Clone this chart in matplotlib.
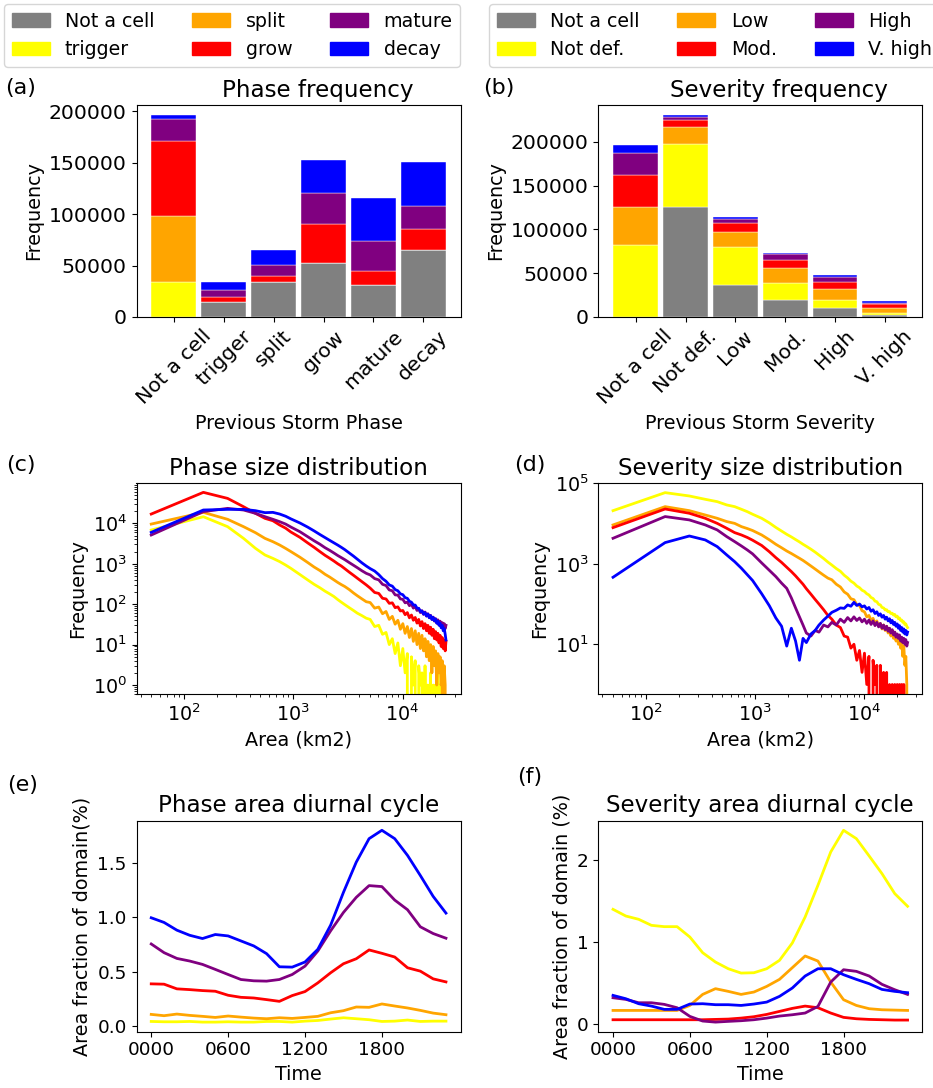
import matplotlib
matplotlib.use("Agg")
import matplotlib.pyplot as plt
from matplotlib.patches import Patch
from matplotlib.ticker import LogLocator, NullLocator
import numpy as np

plt.rcParams["font.size"] = 13.8

# ---- categories / colours ----
phase_names = ["Not a cell", "trigger", "split", "grow", "mature", "decay"]
severity_names = ["Not a cell", "Not def.", "Low", "Mod.", "High", "V. high"]
colours = ["grey", "yellow", "orange", "red", "purple", "blue"]

# ---- (a) phase frequency, one row per stacked segment (current phase) ----
phase_notacell = [0, 14600, 33800, 52400, 30900, 65000]
phase_trigger = [33800, 0, 0, 0, 0, 0]
phase_split = [64400, 0, 0, 0, 0, 0]
phase_grow = [73200, 4600, 6200, 38000, 14000, 20900]
phase_mature = [20500, 6800, 10400, 29900, 29200, 22100]
phase_decay = [4200, 7800, 14300, 32200, 41300, 42200]

# ---- (b) severity frequency ----
sev_notacell = [0, 126000, 37000, 19800, 10300, 1900]
sev_notdef = [82100, 71700, 42400, 19500, 9500, 2300]
sev_low = [43900, 19100, 17500, 16800, 11900, 6500]
sev_mod = [36200, 7600, 10000, 9500, 8400, 3800]
sev_high = [25200, 3800, 4900, 5800, 5700, 1900]
sev_vhigh = [8800, 2300, 1900, 1500, 1900, 1900]

# ---- (c)/(d) size distributions ----
area_km2 = [50, 150, 250, 350, 450, 550, 650, 750, 850, 950,
            1150, 1350, 1550, 1750, 1950, 2150, 2350, 2550, 2750, 2950,
            3250, 3550, 3850, 4250, 4650,
            5050, 5550, 6050, 6550, 7050, 7550, 8050, 8550, 9050, 9550,
            10050, 10550, 11050, 11550, 12050, 12550, 13050, 13550, 14050, 14550,
            15050, 15550, 16050, 16550, 17050, 17550, 18050, 18550, 19050, 19550,
            20050, 20550, 21050, 21550, 22050, 22550, 23050, 23550, 24050, 24550, 24950]

size_trigger = [6840, 14600, 8280, 4250, 2410, 1650, 1360, 1130, 930, 770,
                540, 400, 310, 255, 210, 180, 155, 130, 112, 98,
                82, 70, 60, 52, 45,
                42, 28, 30, 18, 20, 10, 14, 6, 11, 3,
                8, 2, 6, 0, 5, 1, 4, 0, 3, 1,
                2, 0, 3, 0, 1, 0, 2, 0, 1, 0,
                1, 0, 2, 0, 1, 0, 1, 0, 1, 0, 0]
size_split = [9600, 18700, 12600, 8280, 5880, 4250, 3520, 2910, 2400, 2000,
              1450, 1080, 830, 680, 550, 470, 400, 345, 305, 275,
              230, 190, 162, 135, 115,
              110, 80, 85, 58, 66, 42, 50, 32, 40, 24,
              33, 19, 28, 15, 25, 12, 22, 10, 19, 8,
              17, 7, 14, 5, 12, 4, 10, 2, 9, 3,
              7, 1, 6, 2, 5, 1, 4, 0, 3, 1, 0]
size_grow = [17000, 58500, 41500, 25800, 17700, 13300, 11600, 9100, 7600, 6100,
             4500, 3300, 2550, 2000, 1620, 1370, 1170, 1000, 880, 760,
             620, 520, 440, 360, 300,
             250, 195, 185, 140, 135, 105, 108, 82, 86, 68,
             70, 55, 62, 46, 54, 40, 47, 34, 42, 29,
             37, 25, 33, 22, 30, 19, 27, 17, 24, 14,
             21, 13, 19, 11, 17, 9, 15, 8, 13, 7, 12]
size_mature = [5150, 19500, 23500, 21400, 17700, 14600, 12600, 11000, 9600, 8100,
               6200, 4700, 3700, 3050, 2500, 2150, 1850, 1600, 1420, 1270,
               1070, 920, 800, 670, 580,
               530, 430, 400, 310, 290, 225, 215, 170, 168, 135,
               132, 108, 113, 92, 100, 80, 88, 70, 78, 62,
               69, 56, 64, 51, 58, 47, 53, 42, 48, 38,
               44, 34, 41, 31, 38, 29, 35, 27, 33, 25, 30]
size_decay = [6000, 21400, 22200, 22200, 20600, 18400, 18700, 17000, 15000, 12900,
              10200, 8100, 6500, 5300, 4450, 3800, 3300, 2900, 2550, 2250,
              1850, 1550, 1300, 1050, 880,
              760, 660, 540, 430, 370, 300, 280, 230, 215, 180,
              172, 145, 140, 118, 112, 96, 95, 80, 79, 66,
              68, 57, 62, 51, 57, 46, 52, 42, 47, 39,
              43, 34, 38, 30, 34, 26, 30, 22, 25, 18, 13]

size_notdef = [20900, 58600, 48400, 40000, 35000, 29000, 26300, 22600, 19700, 17000,
               13500, 10400, 8000, 6500, 5400, 4650, 4000, 3500, 3050, 2720,
               2300, 1950, 1650, 1350, 1100,
               930, 760, 650, 520, 445, 370, 330, 280, 255, 220,
               205, 180, 168, 145, 137, 118, 114, 98, 95, 82,
               80, 71, 72, 64, 65, 58, 59, 53, 55, 48,
               50, 43, 45, 39, 40, 35, 36, 31, 32, 28, 26]
size_low = [9230, 26300, 20900, 16300, 13500, 11200, 10100, 8380, 7500, 6700,
            5200, 3950, 3050, 2500, 2080, 1800, 1560, 1370, 1210, 1060,
            880, 740, 630, 520, 440,
            400, 310, 265, 200, 175, 135, 128, 96, 92, 68,
            64, 48, 52, 39, 44, 33, 38, 28, 33, 24,
            30, 22, 28, 19, 25, 16, 22, 14, 20, 12,
            17, 10, 14, 8, 12, 5, 9, 3, 5, 1, 0]
size_mod = [7920, 23000, 18000, 13500, 10100, 7620, 5950, 5200, 4500, 3850,
            2850, 2000, 1420, 1080, 820, 640, 500, 390, 310, 240,
            175, 130, 100, 72, 52,
            42, 30, 26, 16, 15, 8, 10, 4, 7, 2,
            6, 1, 5, 0, 4, 1, 3, 0, 3, 0,
            2, 0, 2, 0, 1, 0, 1, 0, 1, 0,
            1, 0, 1, 0, 1, 0, 1, 0, 0, 0, 0]
size_high = [4300, 14900, 12300, 9230, 6940, 4730, 3560, 2770, 2200, 1760,
             1050, 690, 480, 330, 245, 142, 80, 48, 30, 19,
             16, 22, 20, 30, 27,
             35, 30, 42, 35, 46, 38, 48, 39, 45, 36,
             42, 33, 40, 31, 38, 29, 35, 27, 33, 25,
             30, 23, 28, 21, 25, 19, 23, 17, 20, 15,
             18, 14, 17, 12, 15, 11, 14, 10, 13, 9, 11]
size_vhigh = [462, 3360, 4900, 3910, 2670, 1660, 1130, 773, 533, 383,
              180, 91, 45, 28, 9, 25, 12, 4, 14, 11,
              18, 22, 30, 40, 50,
              62, 70, 80, 78, 95, 88, 110, 92, 100, 85,
              90, 75, 82, 66, 72, 58, 64, 52, 57, 47,
              52, 42, 47, 38, 43, 34, 39, 31, 35, 28,
              32, 25, 29, 22, 26, 20, 24, 18, 22, 17, 20]

# ---- (e)/(f) diurnal cycle ----
hours = [0, 1, 2, 3, 4, 5, 6, 7, 8, 9, 10, 11,
         12, 13, 14, 15, 16, 17, 18, 19, 20, 21, 22, 23]
hour_ticks = [0, 6, 12, 18]
hour_labels = ["0000", "0600", "1200", "1800"]

diurnal_trigger = [0.043, 0.040, 0.040, 0.043, 0.037, 0.037, 0.040, 0.037, 0.037, 0.043, 0.043, 0.037,
                   0.046, 0.052, 0.065, 0.077, 0.068, 0.059, 0.043, 0.046, 0.056, 0.043, 0.046, 0.046]
diurnal_split = [0.108, 0.096, 0.111, 0.099, 0.090, 0.080, 0.093, 0.083, 0.074, 0.068, 0.077, 0.071,
                 0.080, 0.090, 0.123, 0.142, 0.176, 0.173, 0.204, 0.185, 0.167, 0.145, 0.120, 0.105]
diurnal_grow = [0.389, 0.386, 0.343, 0.336, 0.327, 0.321, 0.284, 0.265, 0.259, 0.244, 0.228, 0.281,
                0.318, 0.398, 0.491, 0.574, 0.620, 0.701, 0.670, 0.636, 0.537, 0.506, 0.435, 0.407]
diurnal_mature = [0.756, 0.676, 0.623, 0.599, 0.568, 0.522, 0.475, 0.429, 0.417, 0.414, 0.429, 0.475,
                  0.552, 0.691, 0.877, 1.046, 1.185, 1.293, 1.284, 1.160, 1.071, 0.914, 0.852, 0.809]
diurnal_decay = [0.997, 0.954, 0.883, 0.836, 0.806, 0.843, 0.830, 0.784, 0.738, 0.667, 0.546, 0.543,
                 0.590, 0.707, 0.929, 1.231, 1.509, 1.725, 1.802, 1.725, 1.571, 1.386, 1.194, 1.040]

diurnal_notdef = [1.400, 1.318, 1.278, 1.204, 1.188, 1.188, 1.061, 0.869, 0.755, 0.673, 0.620, 0.624,
                  0.673, 0.776, 0.988, 1.306, 1.694, 2.102, 2.367, 2.265, 2.053, 1.837, 1.592, 1.437]
diurnal_low = [0.163, 0.163, 0.163, 0.163, 0.163, 0.163, 0.224, 0.359, 0.429, 0.396, 0.359, 0.388,
               0.457, 0.543, 0.686, 0.829, 0.767, 0.510, 0.294, 0.224, 0.184, 0.171, 0.167, 0.163]
diurnal_mod = [0.049, 0.049, 0.049, 0.049, 0.049, 0.049, 0.049, 0.049, 0.053, 0.057, 0.069, 0.086,
               0.114, 0.151, 0.188, 0.216, 0.196, 0.131, 0.078, 0.061, 0.053, 0.049, 0.045, 0.045]
diurnal_high = [0.318, 0.298, 0.257, 0.257, 0.237, 0.196, 0.090, 0.033, 0.020, 0.029, 0.037, 0.049,
                0.069, 0.094, 0.110, 0.131, 0.212, 0.510, 0.661, 0.641, 0.584, 0.482, 0.416, 0.359]
diurnal_vhigh = [0.347, 0.306, 0.245, 0.216, 0.176, 0.176, 0.241, 0.245, 0.233, 0.233, 0.224, 0.241,
                 0.265, 0.335, 0.437, 0.584, 0.673, 0.673, 0.600, 0.543, 0.490, 0.420, 0.396, 0.380]

W, H = 933, 1088
TITLE_SIZE = 16.6


def px_axes(fig, x0, y0, x1, y1):
    # axes from a pixel box (origin top-left)
    return fig.add_axes([x0 / W, 1 - y1 / H, (x1 - x0) / W, (y1 - y0) / H])


def stacked_bars(ax, names, segments, title, xlabel):
    x = np.arange(len(names))
    bottom = np.zeros(len(names))
    for seg, col in zip(segments, colours):
        seg = np.array(seg, dtype=float)
        ax.bar(x, seg, 0.9, bottom=bottom, color=col,
               edgecolor="white", linewidth=0.3)
        bottom += seg
    ax.set_xticks(x)
    ax.set_xticklabels(names, rotation=45)
    ax.set_xlim(-0.75, len(names) - 0.25)
    ax.tick_params(labelsize=14.7)
    ax.set_ylabel("Frequency")
    ax.set_xlabel(xlabel)
    ax.set_title(title, fontsize=TITLE_SIZE, x=0.558)


def size_lines(ax, curves, title):
    for y, col in zip(curves, colours[1:]):
        ax.plot(area_km2, y, color=col, linewidth=2)
    ax.set_xscale("log")
    ax.set_yscale("log")
    ax.tick_params(labelsize=13.8)
    ax.set_xlabel("Area (km2)")
    ax.set_ylabel("Frequency")
    ax.set_title(title, fontsize=TITLE_SIZE)


def diurnal_lines(ax, curves, title, ylabel):
    for y, col in zip(curves, colours[1:]):
        ax.plot(hours, y, color=col, linewidth=2)
    ax.set_xticks(hour_ticks)
    ax.set_xticklabels(hour_labels)
    ax.tick_params(labelsize=13.3)
    ax.set_xlabel("Time")
    ax.set_ylabel(ylabel)
    ax.set_title(title, fontsize=TITLE_SIZE)


def main():
    fig = plt.figure(figsize=(W / 100, H / 100), dpi=100)

    ax_a = px_axes(fig, 136.5, 105, 460.7, 317)
    ax_b = px_axes(fig, 598.3, 105, 922.3, 317)
    ax_c = px_axes(fig, 136.5, 483.3, 460.7, 694)
    ax_d = px_axes(fig, 598.3, 483.3, 922.3, 694)
    ax_e = px_axes(fig, 136.5, 820.7, 460.7, 1031.7)
    ax_f = px_axes(fig, 598.3, 820.7, 922.3, 1031.7)

    stacked_bars(ax_a, phase_names,
                 [phase_notacell, phase_trigger, phase_split,
                  phase_grow, phase_mature, phase_decay],
                 "Phase frequency", "Previous Storm Phase")
    stacked_bars(ax_b, severity_names,
                 [sev_notacell, sev_notdef, sev_low,
                  sev_mod, sev_high, sev_vhigh],
                 "Severity frequency", "Previous Storm Severity")

    size_lines(ax_c, [size_trigger, size_split, size_grow, size_mature, size_decay],
               "Phase size distribution")
    # every decade labelled on (c)
    ax_c.set_ylim(0.6, 9.8e4)
    ax_c.yaxis.set_major_locator(LogLocator(base=10, numticks=12))
    ax_c.yaxis.set_minor_locator(LogLocator(base=10, subs=np.arange(2, 10),
                                            numticks=12))

    size_lines(ax_d, [size_notdef, size_low, size_mod, size_high, size_vhigh],
               "Severity size distribution")
    ax_d.set_ylim(0.58, 1.0e5)
    ax_d.set_yticks([1e1, 1e3, 1e5])
    ax_d.yaxis.set_minor_locator(NullLocator())

    diurnal_lines(ax_e, [diurnal_trigger, diurnal_split, diurnal_grow,
                         diurnal_mature, diurnal_decay],
                  "Phase area diurnal cycle", "Area fraction of domain(%)")
    diurnal_lines(ax_f, [diurnal_notdef, diurnal_low, diurnal_mod,
                         diurnal_high, diurnal_vhigh],
                  "Severity area diurnal cycle", "Area fraction of domain (%)")

    # legends across the top
    handles = [Patch(color=c) for c in colours]
    fig.legend(handles, phase_names, loc="upper left", ncol=3, fontsize=13.7,
               bbox_to_anchor=(4 / W, 1 - 4 / H), borderaxespad=0)
    fig.legend(handles, severity_names, loc="upper left", ncol=3, fontsize=13.7,
               bbox_to_anchor=(489 / W, 1 - 4 / H), borderaxespad=0)

    # panel letters
    for lab, xp, yp in [("(a)", 5, 88), ("(b)", 483, 88),
                        ("(c)", 6, 465), ("(d)", 514, 465),
                        ("(e)", 7, 785), ("(f)", 517, 777)]:
        fig.text(xp / W, 1 - yp / H, lab, fontsize=16, va="center", ha="left")

    fig.savefig("out.png", dpi=100)
    plt.close(fig)


if __name__ == "__main__":
    main()
